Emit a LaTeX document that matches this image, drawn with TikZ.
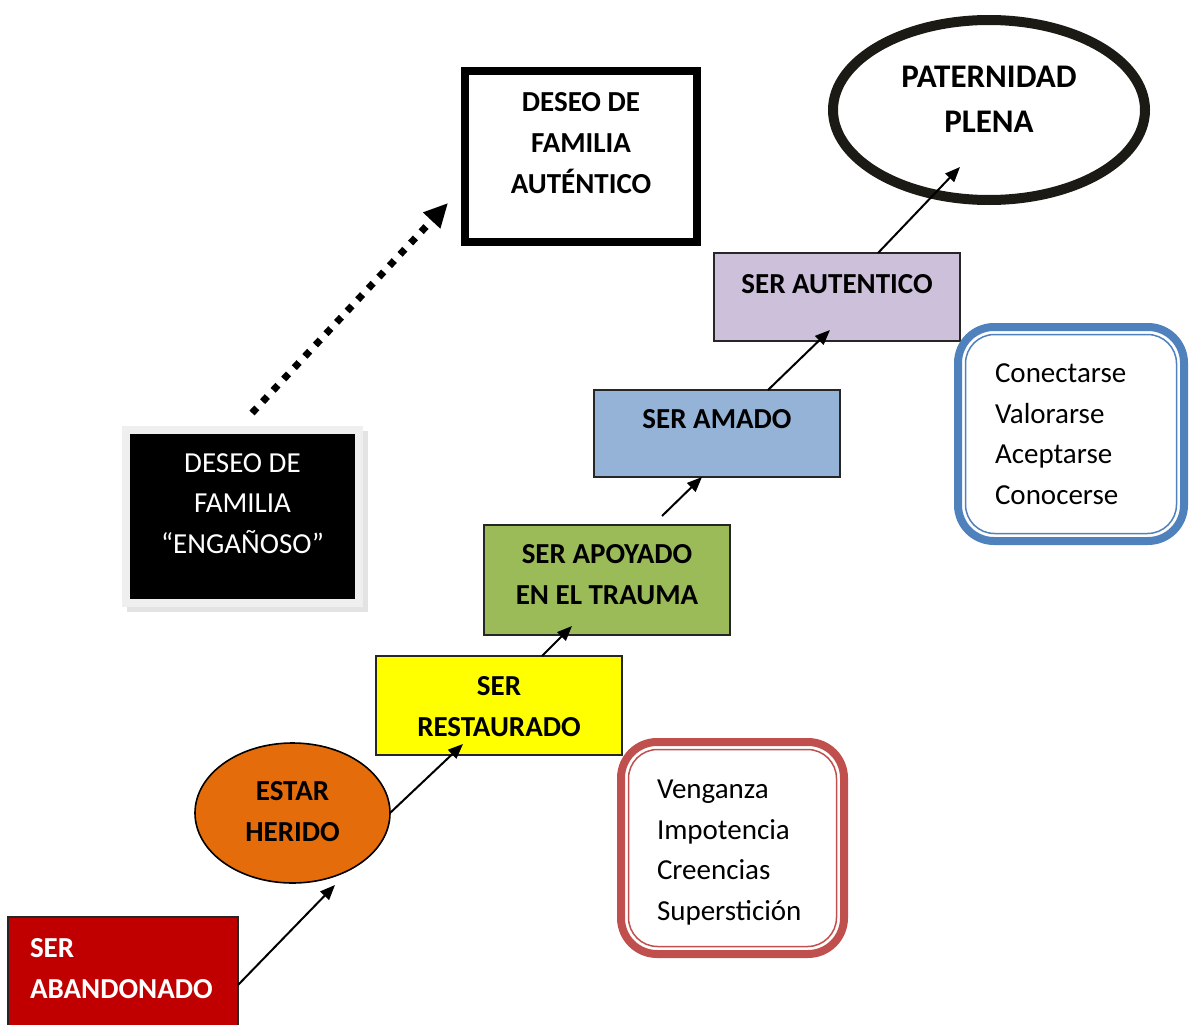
\documentclass[tikz,border=0pt]{standalone}
\usepackage{fontspec}
\setmainfont{Carlito}
\usetikzlibrary{shapes.geometric,arrows.meta}

\definecolor{abred}{HTML}{C00000}
\definecolor{woundorange}{HTML}{E46C0A}
\definecolor{restyellow}{HTML}{FFFF00}
\definecolor{supgreen}{HTML}{9BBB59}
\definecolor{lovedblue}{HTML}{95B3D7}
\definecolor{authlilac}{HTML}{CCC0DA}
\definecolor{listred}{HTML}{C0504D}
\definecolor{listblue}{HTML}{4F81BD}
\definecolor{framegray}{HTML}{EFEFEF}
\definecolor{inkblack}{HTML}{1C1A14}

\begin{document}
\begin{tikzpicture}[x=1pt,y=-1pt,
  every node/.style={inner sep=0pt, outer sep=0pt},
  boldtxt/.style={font=\fontsize{29}{41}\selectfont\bfseries, align=center},
  plaintxt/.style={font=\fontsize{29}{40.5}\selectfont, align=left},
  stage/.style={rectangle, draw=black!85, line width=1.6pt, minimum width=246pt},
  listbox/.style={rectangle, rounded corners=36pt, line width=8pt, fill=white},
  innerline/.style={line width=1.5pt, rounded corners=29pt},
  arr/.style={draw=black, line width=2pt, -{Triangle[length=15pt,width=12pt]}},
  dotarrow/.style={draw=black, line width=7pt, dash pattern=on 7pt off 8.5pt,
    -{Triangle[length=24pt,width=22pt]}},
]
\useasboundingbox (0,0) rectangle (1191,1025);

% staircase of stages
\node[stage, fill=abred, minimum width=230pt, minimum height=113pt,
  label={[boldtxt, text=white, align=left, anchor=north west, xshift=22pt, yshift=-21pt]north west:{SER\\ABANDONADO}}]
  (aband) at (123,973.5) {};
\node[ellipse, draw=black, line width=1.6pt, fill=woundorange, minimum width=195pt, minimum height=140pt,
  label={[boldtxt, yshift=1.5pt]center:{ESTAR\\HERIDO}}] (herido) at (292.5,813) {};
\node[stage, fill=restyellow, minimum height=99pt,
  label={[boldtxt, yshift=-1.5pt]center:{SER\\RESTAURADO}}] (restaur) at (499,705.5) {};
\node[stage, fill=supgreen, minimum height=110pt,
  label={[boldtxt, yshift=5pt]center:{SER APOYADO\\EN EL TRAUMA}}] (apoyo) at (607,580) {};
\node[stage, fill=lovedblue, minimum height=87pt,
  label={[boldtxt, yshift=14.5pt]center:SER AMADO}] (amado) at (717,433.5) {};
\node[stage, fill=authlilac, minimum height=88pt,
  label={[boldtxt, yshift=13pt]center:SER AUTENTICO}] (autent) at (837,297) {};
\node[ellipse, draw=inkblack, line width=10pt, minimum width=312pt, minimum height=180pt,
  label={[boldtxt, font=\fontsize{33}{45}\selectfont\bfseries, yshift=10.5pt]center:{PATERNIDAD\\PLENA}}]
  (plena) at (989,110) {};

% the two family wishes
\node[rectangle, draw=black, line width=8pt, minimum width=232pt, minimum height=171pt,
  label={[boldtxt, yshift=13.5pt]center:{DESEO DE\\FAMILIA\\AUTÉNTICO}}] (autfam) at (581,156.5) {};
\fill[gray!22] (127,431) rectangle (368,612);
\node[rectangle, fill=black, draw=framegray, line width=8pt, minimum width=233pt, minimum height=173pt,
  label={[plaintxt, align=center, text=white, yshift=13pt]center:{DESEO DE\\FAMILIA\\“ENGAÑOSO”}}]
  (engano) at (242.5,516.5) {};

% side lists
\node[listbox, draw=listred, minimum width=223pt, minimum height=212pt,
  label={[plaintxt, anchor=north west, xshift=36pt, yshift=-38pt]north west:{Venganza\\Impotencia\\Creencias\\Superstición}}]
  (neg) at (732.5,848) {};
\draw[innerline, listred] ([shift={(7.5,7.5)}]neg.north west) rectangle ([shift={(-7.5,-7.5)}]neg.south east);
\node[listbox, draw=listblue, minimum width=226pt, minimum height=214pt,
  label={[plaintxt, anchor=north west, xshift=37pt, yshift=-37pt]north west:{Conectarse\\Valorarse\\Aceptarse\\Conocerse}}]
  (pos) at (1071,434) {};
\draw[innerline, listblue] ([shift={(7.5,7.5)}]pos.north west) rectangle ([shift={(-7.5,-7.5)}]pos.south east);

% connectors
\coordinate (t1) at (335,885);
\coordinate (t2) at (463,744);
\coordinate (t3) at (572,626);
\coordinate (s4) at (662,516);
\coordinate (t5) at (830,330);
\coordinate (t6) at (960,167);
\coordinate (d0) at (252,413);
\coordinate (d1) at (448,203);

\draw[arr] ([shift={(0,11.5)}]aband.east) -- (t1);
\draw[arr] (herido.east) -- (t2);
\draw[arr] ([xshift=43pt]restaur.north) -- (t3);
\draw[arr] (s4) -- ([xshift=-15pt]amado.south);
\draw[arr] ([xshift=51pt]amado.north) -- (t5);
\draw[arr] ([xshift=41pt]autent.north) -- (t6);
\draw[dotarrow] (d0) -- (d1);
\end{tikzpicture}
\end{document}
